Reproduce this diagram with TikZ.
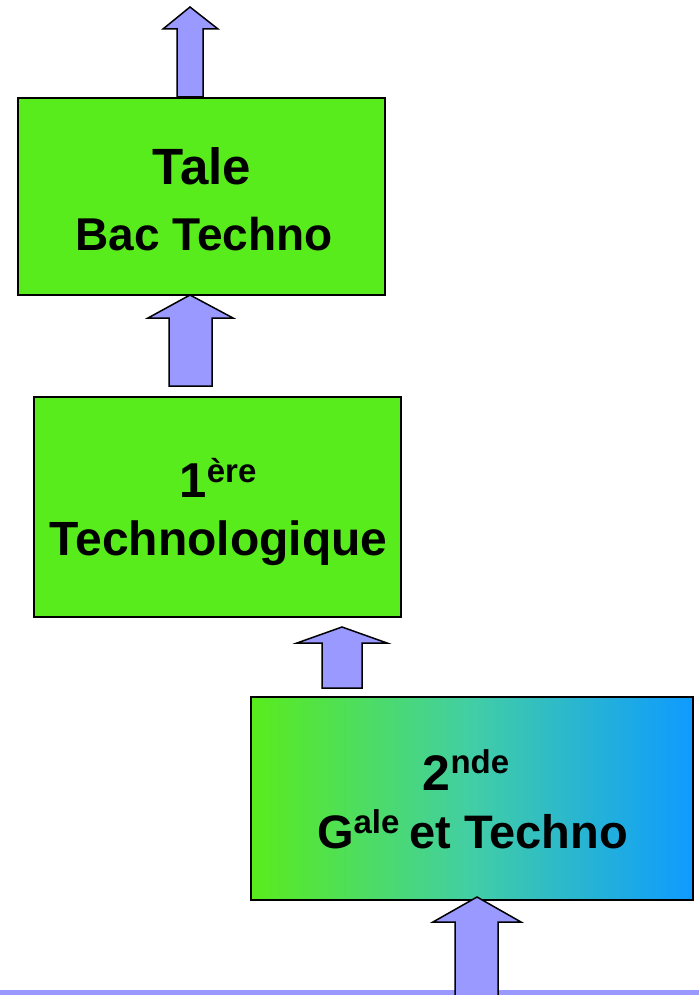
\documentclass[tikz,border=0pt]{standalone}
\usepackage{fontspec}
\setmainfont{Liberation Sans}
\definecolor{boxgreen}{RGB}{89,236,28}
\definecolor{gradmid}{RGB}{66,206,165}
\definecolor{gradblue}{RGB}{14,155,255}
\definecolor{arrowfill}{RGB}{153,153,255}
\newcommand{\supx}[2][15pt]{\raisebox{#1}{\fontsize{33}{33}\selectfont #2}}
\begin{document}
\begin{tikzpicture}[x=1pt,y=-1pt,
  levelbox/.style={draw=black, line width=1.5pt, inner sep=0pt, outer sep=0pt},
  boxtext/.style={anchor=base, inner sep=0pt, font=\bfseries\fontsize{47}{47}\selectfont},
  blockarrow/.style={draw=black, fill=arrowfill, line width=1.5pt, line join=miter}]
\useasboundingbox (0,0) rectangle (699,995);
% bottom band
\fill[arrowfill] (0,990) rectangle (699,995);
% boxes
\node[levelbox, fill=boxgreen, minimum width=367pt, minimum height=197pt]
  (tale) at (201.5,196.5) {};
\node[levelbox, fill=boxgreen, minimum width=367pt, minimum height=220pt]
  (premiere) at (217.5,507) {};
\node[levelbox, left color=boxgreen, right color=gradblue, middle color=gradmid,
  minimum width=442pt, minimum height=203pt]
  (seconde) at (472,798.5) {};
% texts
\node[boxtext, font=\bfseries\fontsize{51}{51}\selectfont] (t1) at (202,185) {Tale};
\node[boxtext, font=\bfseries\fontsize{46}{46}\selectfont] (t2) at (204,250) {Bac Techno};
\node[boxtext, font=\bfseries\fontsize{49}{49}\selectfont] (p1) at (218,497) {1\supx{ère}};
\node[boxtext, font=\bfseries\fontsize{48}{48}\selectfont] (p2) at (218.5,555) {Technologique};
\node[boxtext, font=\bfseries\fontsize{50}{50}\selectfont] (s1) at (466,790) {2\supx[17pt]{nde}};
\node[boxtext] (s2) at (472.5,848) {G\supx{ale}\hspace{10pt}et Techno};
% block arrows
\draw[blockarrow] (177,97) -- (177,29) -- (163,29) -- (190,7) -- (218,29) -- (203,29) -- (203,97) -- cycle;
\draw[blockarrow] (169,386) -- (169,318) -- (148,318) -- (190,295) -- (233,318) -- (212,318) -- (212,386) -- cycle;
\draw[blockarrow] (322,688) -- (322,643) -- (297,643) -- (342,627) -- (387,643) -- (362,643) -- (362,688) -- cycle;
\draw[blockarrow] (455,996) -- (455,922) -- (433,922) -- (477,897) -- (521,922) -- (498,922) -- (498,996);
\end{tikzpicture}
\end{document}
